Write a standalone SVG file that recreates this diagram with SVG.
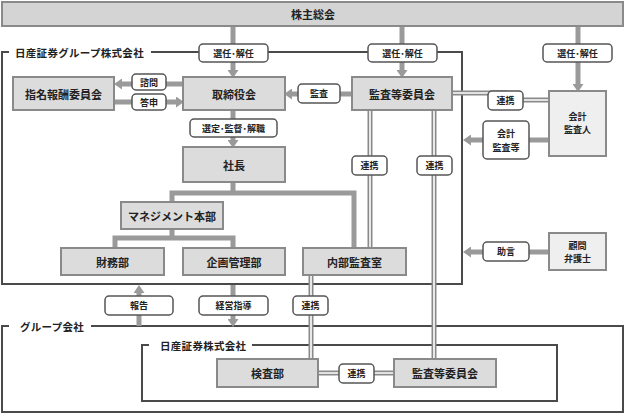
<svg xmlns="http://www.w3.org/2000/svg" width="626" height="414" viewBox="0 0 626 414">
<defs>
<style>
.box{fill:#dcdcdc;stroke:#8a8a8a;stroke-width:2}
.box2{fill:#efefef;stroke:#8a8a8a;stroke-width:2}
.lbl{fill:#fff;stroke:#555;stroke-width:1.5}
.t{font-family:"Noto Sans CJK JP","Noto Sans CJK SC",sans-serif;font-size:11px;font-weight:700;fill:#222;text-anchor:middle;dominant-baseline:central}
.ts{font-size:9px}
.tl{text-anchor:start}
.frame{fill:none;stroke:#4a4a4a;stroke-width:2}
.gap{fill:#fff;stroke:none}
.con{stroke:#9a9a9a;stroke-width:5;fill:none}
.dbl{stroke:#8a8a8a;stroke-width:5;fill:none}
.dbli{stroke:#fff;stroke-width:1.6;fill:none}
</style>
<marker id="ah" markerUnits="userSpaceOnUse" markerWidth="8" markerHeight="11" refX="0" refY="5.5" orient="auto">
<path d="M0,0 L8,5.5 L0,11 z" fill="#9a9a9a"/>
</marker>
</defs>
<rect width="626" height="414" fill="#fff"/>

<g id="frames">
<rect class="frame" x="2" y="52" width="460" height="232"/>
<rect class="gap" x="9" y="44" width="142" height="16"/>
<text class="t tl" x="15" y="52" style="font-size:10.5px;letter-spacing:0.3px">日産証券グループ株式会社</text>
<rect class="frame" x="2" y="326" width="621" height="86"/>
<rect class="gap" x="9" y="318" width="82" height="16"/>
<text class="t tl" x="20" y="326" style="font-size:10.5px;letter-spacing:0.3px">グループ会社</text>
<rect class="frame" x="142" y="345" width="415" height="56"/>
<rect class="gap" x="149" y="337" width="103" height="16"/>
<text class="t tl" x="160" y="345" style="font-size:10.5px;letter-spacing:0.3px">日産証券株式会社</text>
</g>

<g id="connectors">
<path class="con" d="M233 26 V70" marker-end="url(#ah)"/>
<path class="con" d="M402 26 V70" marker-end="url(#ah)"/>
<path class="con" d="M578 26 V84" marker-end="url(#ah)"/>
<path class="con" d="M183 84 H122" marker-end="url(#ah)"/>
<path class="con" d="M114 102 H176" marker-end="url(#ah)"/>
<path class="con" d="M352 94 H292" marker-end="url(#ah)"/>
<path class="con" d="M233 110 V140" marker-end="url(#ah)"/>
<path class="con" d="M233 182 V193 H172 V202 M233 193 H354 V248"/>
<path class="con" d="M172 229 V238 H115 V248 M172 238 H233 V248"/>
<path class="con" d="M549 140 H471" marker-end="url(#ah)"/>
<path class="con" d="M549 252 H471" marker-end="url(#ah)"/>
<path class="con" d="M139 326 V293" marker-end="url(#ah)"/>
<path class="con" d="M233 285 V319" marker-end="url(#ah)"/>
<path class="dbl" d="M452 93 H505 V100 H549 M370 110 V248 M434 110 V359 M311 275 V359 M318 373 H394"/>
<path class="dbli" d="M452 93 H505 V100 H549 M370 110 V248 M434 110 V359 M311 275 V359 M318 373 H394"/>
</g>

<g id="n-kabunushi"><rect class="box" x="2" y="2" width="621" height="24" style="fill:#d4d4d4"/><text class="t" x="313" y="14">株主総会</text></g>
<g id="n-shimei"><rect class="box" x="13" y="77" width="101" height="33"/><text class="t" x="63.5" y="93.5">指名報酬委員会</text></g>
<g id="n-torishimari"><rect class="box" x="183" y="77" width="102" height="33"/><text class="t" x="234" y="93.5">取締役会</text></g>
<g id="n-kansa"><rect class="box" x="352" y="77" width="100" height="33"/><text class="t" x="402" y="93.5">監査等委員会</text></g>
<g id="n-kaikei"><rect class="box2" x="549" y="91" width="57" height="65"/><text class="t ts" x="577.5" y="116">会計</text><text class="t ts" x="577.5" y="129">監査人</text></g>
<g id="n-shacho"><rect class="box" x="183" y="147" width="102" height="35"/><text class="t" x="234" y="164.5">社長</text></g>
<g id="n-mgmt"><rect class="box" x="121" y="202" width="102" height="27"/><text class="t" x="172" y="215.5">マネジメント本部</text></g>
<g id="n-zaimu"><rect class="box" x="61" y="248" width="103" height="27"/><text class="t" x="112.5" y="261.5">財務部</text></g>
<g id="n-kikaku"><rect class="box" x="183" y="248" width="102" height="27"/><text class="t" x="234" y="261.5">企画管理部</text></g>
<g id="n-naibu"><rect class="box" x="303" y="248" width="103" height="27"/><text class="t" x="354.5" y="261.5">内部監査室</text></g>
<g id="n-komon"><rect class="box2" x="549" y="233" width="57" height="37"/><text class="t ts" x="577.5" y="245">顧問</text><text class="t ts" x="577.5" y="258">弁護士</text></g>
<g id="n-kensa"><rect class="box" x="217" y="359" width="101" height="28"/><text class="t" x="267.5" y="373">検査部</text></g>
<g id="n-kansa2"><rect class="box" x="394" y="359" width="102" height="28"/><text class="t" x="445" y="373">監査等委員会</text></g>

<g id="labels">
<rect class="lbl" x="199" y="44" width="69" height="18" rx="4"/><text class="t ts" x="233.5" y="53">選任･解任</text>
<rect class="lbl" x="368" y="44" width="69" height="18" rx="4"/><text class="t ts" x="402.5" y="53">選任･解任</text>
<rect class="lbl" x="543" y="44" width="69" height="18" rx="4"/><text class="t ts" x="577.5" y="53">選任･解任</text>
<rect class="lbl" x="132" y="74" width="34" height="16" rx="4"/><text class="t ts" x="149" y="82">諮問</text>
<rect class="lbl" x="132" y="94" width="34" height="16" rx="4"/><text class="t ts" x="149" y="102">答申</text>
<rect class="lbl" x="298" y="84" width="42" height="19" rx="4"/><text class="t ts" x="319" y="93.5">監査</text>
<rect class="lbl" x="190" y="119" width="87" height="18" rx="4"/><text class="t ts" x="233.5" y="128">選定･監督･解職</text>
<rect class="lbl" x="488" y="91" width="35" height="19" rx="4"/><text class="t ts" x="505.5" y="100.5">連携</text>
<rect class="lbl" x="483" y="121" width="46" height="38" rx="4"/><text class="t ts" x="506" y="133">会計</text><text class="t ts" x="506" y="147">監査等</text>
<rect class="lbl" x="352" y="156" width="35" height="19" rx="4"/><text class="t ts" x="369.5" y="165.5">連携</text>
<rect class="lbl" x="417" y="156" width="35" height="19" rx="4"/><text class="t ts" x="434.5" y="165.5">連携</text>
<rect class="lbl" x="483" y="242" width="46" height="19" rx="4"/><text class="t ts" x="506" y="251.5">助言</text>
<rect class="lbl" x="105" y="296" width="68" height="19" rx="4"/><text class="t ts" x="139" y="305.5">報告</text>
<rect class="lbl" x="199" y="296" width="69" height="19" rx="4"/><text class="t ts" x="233.5" y="305.5">経営指導</text>
<rect class="lbl" x="293" y="296" width="35" height="19" rx="4"/><text class="t ts" x="310.5" y="305.5">連携</text>
<rect class="lbl" x="339" y="364" width="35" height="19" rx="4"/><text class="t ts" x="356.5" y="373.5">連携</text>
</g>
</svg>
